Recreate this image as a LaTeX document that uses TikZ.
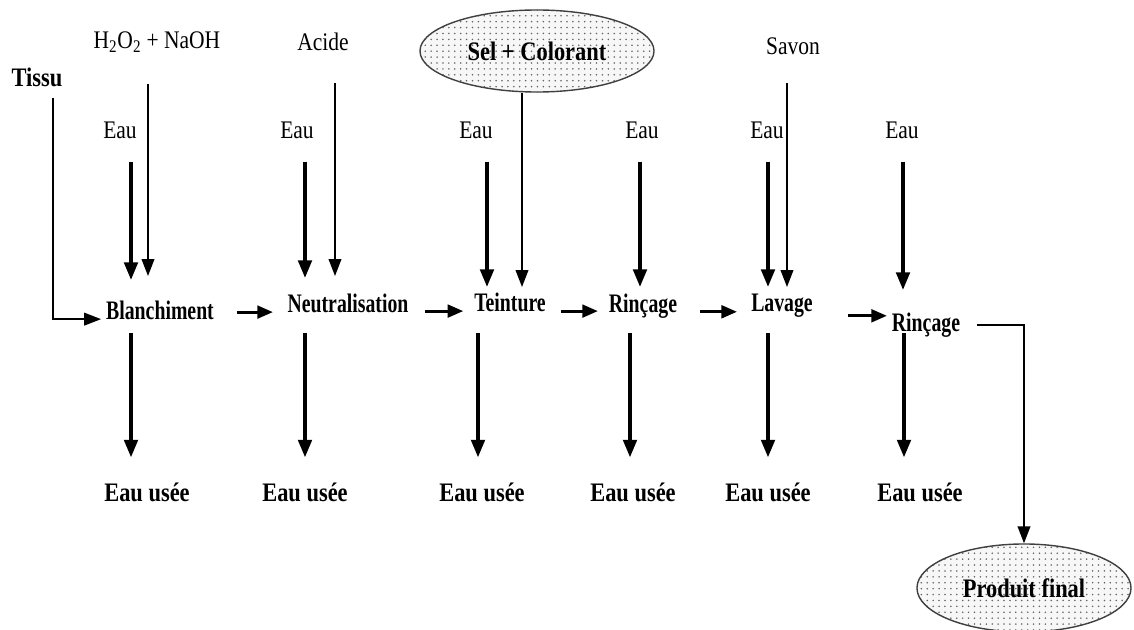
\documentclass[tikz,border=0pt]{standalone}
\usepackage{fontspec}
\setmainfont{Liberation Serif}
\newfontfamily\stepfont{Liberation Serif}[FakeStretch=0.74]
\newfontfamily\notefont{Liberation Serif}[FakeStretch=0.84]
\newfontfamily\inputfont{Liberation Serif}[FakeStretch=0.85]
\usetikzlibrary{arrows.meta,shapes.geometric,patterns.meta}

\tikzdeclarepattern{
  name=stipple,
  type=uncolored,
  bounding box={(-1pt,-1pt) and (1pt,1pt)},
  tile size={(4.2pt,4.2pt)},
  code={\pgfpathcircle{\pgfpointorigin}{0.62pt}\pgfusepath{fill}}
}

\tikzset{
  reagent/.style={font=\inputfont\fontsize{18}{20}\selectfont,inner sep=2pt},
  stage/.style={font=\stepfont\bfseries\fontsize{19}{21}\selectfont,inner sep=2pt},
  waste/.style={font=\notefont\bfseries\fontsize{19}{21}\selectfont,inner sep=2pt},
  blob/.style={ellipse,draw=black!75,line width=1pt,preaction={fill=black!3},
    pattern=stipple,pattern color=black!60,inner sep=0pt,
    font=\notefont\bfseries\fontsize{19}{21}\selectfont},
  bigarrow/.style={line width=2.6pt,-{Triangle[length=12.5pt,width=9.5pt]}},
  thinarrow/.style={line width=1.1pt,-{Triangle[length=12pt,width=9pt]}},
  midarrow/.style={line width=2pt,-{Triangle[length=11pt,width=9pt]}}
}

\begin{document}
\begin{tikzpicture}[x=0.025cm,y=-0.025cm,line cap=butt,line join=miter]
  \useasboundingbox (0,0) rectangle (1134,630);

  % Inputs along the top.
  \node[waste] (tissu) at (37,77) {Tissu};
  \node[reagent] (perox) at (157,42) {H\textsubscript{2}O\textsubscript{2} + NaOH};
  \node[reagent] (acide) at (323,42) {Acide};
  \node[blob,minimum width=5.85cm,minimum height=2.05cm] (sel) at (537,51) {Sel + Colorant};
  \node[reagent] (savon) at (793,46) {Savon};
  \foreach \x [count=\s] in {120,297,476,642,767,902}
    \node[reagent] (eau\s) at (\x,130) {Eau};

  % The six treatment steps.
  \node[stage] (blan) at (160,310) {Blanchiment};
  \node[stage] (neut) at (348,303) {Neutralisation};
  \node[stage] (tein) at (510,302) {Teinture};
  \node[stage] (rin) at (643,306) {Rinçage};
  \node[stage] (lav) at (782,306) {Lavage};
  \node[stage] (rinb) at (926,325) {Rinçage};

  % Waste water under each step, and the end product.
  \foreach \x [count=\s] in {147,305,482,633,768,920}
    \node[waste] (usee\s) at (\x,492) {Eau usée};
  \node[blob,minimum width=5.35cm,minimum height=2.2cm] (final) at (1024,588) {Produit final};

  % Water in, waste water out.
  \foreach \p/\xi/\yt/\xo [count=\s] in {blan/131/280/131,neut/305/278/305,tein/487/287/478,
      rin/640/287/630,lav/768/287/768,rinb/903/290/904}{
    \coordinate (in\s) at (\xi,\yt);
    \coordinate (out\s) at (\xo,333);
    \draw[bigarrow,shorten <=0.5cm] (eau\s.south -| in\s) -- (in\s);
    \draw[bigarrow,shorten >=0.55cm] (out\s) -- (usee\s.north -| out\s);
  }

  % Chemicals fed into the steps.
  \coordinate (padd) at (148,276);
  \coordinate (aadd) at (335,276);
  \coordinate (sadd) at (522,287);
  \coordinate (vadd) at (787,287);
  \coordinate (tcol) at (53,0);
  \draw[thinarrow,shorten <=0.72cm] (perox.south -| padd) -- (padd);
  \draw[thinarrow,shorten <=0.72cm] (acide.south -| aadd) -- (aadd);
  \draw[thinarrow] (sel.south -| sadd) -- (sadd);
  \draw[thinarrow,shorten <=0.64cm] (savon.south -| vadd) -- (vadd);
  \draw[thinarrow,shorten <=0.2cm,shorten >=0.05cm] (tissu.south -| tcol) |- (blan.base west);

  % Fabric passing from step to step.
  \draw[midarrow,shorten <=0.5cm,shorten >=0.29cm] (blan.east |- neut.base) -- (neut.base west);
  \draw[midarrow,shorten <=0.34cm,shorten >=0.2cm] (neut.east |- tein.base) -- (tein.base west);
  \draw[midarrow,shorten <=0.3cm,shorten >=0.2cm] (tein.base east) -- (tein.base -| rin.west);
  \draw[midarrow,shorten <=0.5cm,shorten >=0.28cm] (rin.east |- lav.base) -- (lav.base west);
  \draw[midarrow,shorten <=0.8cm,shorten >=0.05cm] ([yshift=-0.1cm]lav.base east) -- ([yshift=-0.1cm]lav.base east -| rinb.west);
  \draw[thinarrow,shorten <=0.35cm] (rinb.east) -| (final.north);
\end{tikzpicture}
\end{document}
